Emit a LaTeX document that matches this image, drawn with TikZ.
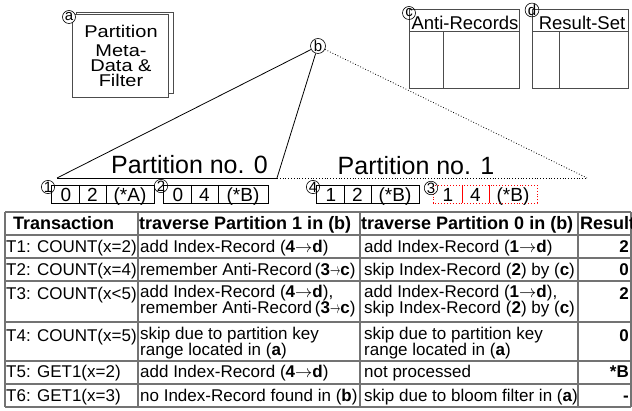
\documentclass[tikz,border=0pt]{standalone}
\usepackage{fontspec}
\setmainfont{Liberation Sans}
\newcommand{\ar}{$\rightarrow$}
\newcommand{\sar}{\scalebox{0.6}[1]{$\rightarrow$}}
\newcommand{\sq}[1]{\scalebox{1}[0.85]{#1}}
\begin{document}
\begin{tikzpicture}[x=1pt,y=-1pt,
  lbl/.style={circle,draw,line width=0.6pt,inner sep=0pt,minimum size=13pt,font=\fontsize{15}{15}\selectfont},
  cell/.style={anchor=base west,inner sep=0pt,font=\fontsize{17}{14}\selectfont},
  cell2/.style={cell,align=left},
  hdr/.style={anchor=base west,inner sep=0pt,font=\fontsize{18}{14}\selectfont\bfseries},
  res/.style={anchor=base east,inner sep=0pt,font=\fontsize{17}{14}\selectfont\bfseries},
  rec/.style={anchor=base,inner sep=0pt,font=\fontsize{19}{19}\selectfont},
  big/.style={anchor=base,inner sep=0pt,font=\fontsize{25}{25}\selectfont},
  meta/.style={anchor=base,inner sep=0pt,font=\fontsize{20}{20}\selectfont},
  ttl/.style={anchor=base,inner sep=0pt,font=\fontsize{18.5}{18.5}\selectfont},
  boxline/.style={draw=black!70,line width=0.9pt},
  recline/.style={draw=black,line width=0.8pt},
  tline/.style={draw=black!55,line width=1.4pt},
  thin/.style={draw=black,line width=0.8pt}
]
\useasboundingbox (0,0) rectangle (632,411);

% (a) Partition meta-data box (stacked pages)
\draw[boxline] (76,12) rectangle (173,93);
\draw[boxline,fill=white] (72,14) rectangle (168,97);
\node[meta,align=center,font=\fontsize{20}{15}\selectfont] (m) at (121,87)
  {\sq{Partition}\\[4pt]\sq{Meta-}\\\sq{Data \&}\\\sq{Filter}};
\node[lbl,fill=white] (a) at (69,17) {a};

% (c) Anti-Records
\draw[boxline] (409,9) rectangle (519,88);
\draw[boxline] (409,31) -- (519,31);
\draw[boxline] (443,31) -- (443,88);
\node[ttl] (tc) at (465,30) {Anti-Records};
\node[lbl] (c) at (409,13) {c};

% (d) Result-Set
\draw[boxline] (532,9) rectangle (628,88);
\draw[boxline] (532,31) -- (628,31);
\draw[boxline] (559,31) -- (559,88);
\node[ttl] (td) at (582,30) {Result-Set};
\node[lbl] (d) at (532,10) {d};

% (b) index tree
\node[lbl,minimum size=15pt] (b) at (318,46) {b};
\coordinate (p0l) at (57,178);
\coordinate (p0r) at (277,178);
\coordinate (p1r) at (587,178);
\draw[thin] (b) -- (p0l);
\draw[thin] (b) -- (p0r);
\draw[thin] (p0l) -- (p0r);
\draw[thin,dotted] (p0r) -- (p1r);
\draw[thin,dotted] (b) -- (p1r);
\node[big] (pn0) at (189.5,174) {Partition no. 0};
\node[big] (pn1) at (416,175) {Partition no. 1};

% index records
\draw[recline] (51,185) rectangle (154,203);
\draw[recline] (79,185) -- (79,203);
\draw[recline] (106,185) -- (106,203);
\node[rec] (r1a) at (66,202) {0};
\node[rec] (r1b) at (92.5,202) {2};
\node[rec] (r1c) at (130,202) {(*A)};

\draw[recline] (163,185) rectangle (268,203);
\draw[recline] (191,185) -- (191,203);
\draw[recline] (218,185) -- (218,203);
\node[rec] (r2a) at (178,202) {0};
\node[rec] (r2b) at (204.5,202) {4};
\node[rec] (r2c) at (243,202) {(*B)};

\draw[recline] (316,185) rectangle (419,203);
\draw[recline] (344,185) -- (344,203);
\draw[recline] (371,185) -- (371,203);
\node[rec] (r4a) at (331,202) {1};
\node[rec] (r4b) at (357.5,202) {2};
\node[rec] (r4c) at (395,202) {(*B)};

\draw[red,line width=0.9pt,dotted] (433,185) rectangle (537,203);
\draw[red,line width=0.9pt] (462,185) -- (462,203);
\draw[red,line width=0.9pt] (489,185) -- (489,203);
\node[rec] (r3a) at (448,202) {1};
\node[rec] (r3b) at (475.5,202) {4};
\node[rec] (r3c) at (513,202) {(*B)};

\node[lbl] (n1) at (48,187) {1};
\node[lbl] (n2) at (161,186) {2};
\node[lbl] (n4) at (313,187) {4};
\node[lbl] (n3) at (431,188) {3};

% table
\foreach \yy in {212,235,258,281,322,361,384,407}
  \draw[tline] (5,\yy) -- (631,\yy);
\foreach \xx in {5,138,360,578,631}
  \draw[tline] (\xx,212) -- (\xx,407);

\node[hdr] (h1) at (13,230) {Transaction};
\node[hdr] (h2) at (139,230) {traverse Partition 1 in (b)};
\node[hdr] (h3) at (361,230) {traverse Partition 0 in (b)};
\node[hdr] (h4) at (580,230) {Result};

\node[cell] (t1a) at (6,253) {T1: COUNT(x=2)};
\node[cell] (t1b) at (140,253) {add Index-Record (\textbf{4}\ar\textbf{d})};
\node[cell] (t1c) at (364,253) {add Index-Record (\textbf{1}\ar\textbf{d})};
\node[res]  (t1d) at (629,253) {2};

\node[cell] (t2a) at (6,276) {T2: COUNT(x=4)};
\node[cell] (t2b) at (140,276) {remember Anti-Record\,(\textbf{3}\sar\textbf{c})};
\node[cell] (t2c) at (364,276) {skip Index-Record (\textbf{2}) by (\textbf{c})};
\node[res]  (t2d) at (629,276) {0};

\node[cell] (t3a) at (6,300) {T3: COUNT(x<5)};
\node[cell2] (t3b) at (140,314) {add Index-Record (\textbf{4}\ar\textbf{d}),\\remember Anti-Record\,(\textbf{3}\sar\textbf{c})};
\node[cell2] (t3c) at (364,314) {add Index-Record (\textbf{1}\ar\textbf{d}),\\skip Index-Record (\textbf{2}) by (\textbf{c})};
\node[res]  (t3d) at (629,300) {2};

\node[cell] (t4a) at (6,342) {T4: COUNT(x=5)};
\node[cell2] (t4b) at (140,356) {skip due to partition key\\range located in (\textbf{a})};
\node[cell2] (t4c) at (364,356) {skip due to partition key\\range located in (\textbf{a})};
\node[res]  (t4d) at (629,342) {0};

\node[cell] (t5a) at (6,378) {T5: GET1(x=2)};
\node[cell] (t5b) at (140,378) {add Index-Record (\textbf{4}\ar\textbf{d})};
\node[cell] (t5c) at (364,378) {not processed};
\node[res]  (t5d) at (629,378) {*B};

\node[cell] (t6a) at (6,402) {T6: GET1(x=3)};
\node[cell] (t6b) at (140,402) {no Index-Record found in (\textbf{b})};
\node[cell] (t6c) at (364,402) {skip due to bloom filter in (\textbf{a})};
\node[res]  (t6d) at (629,402) {-};
\end{tikzpicture}
\end{document}
